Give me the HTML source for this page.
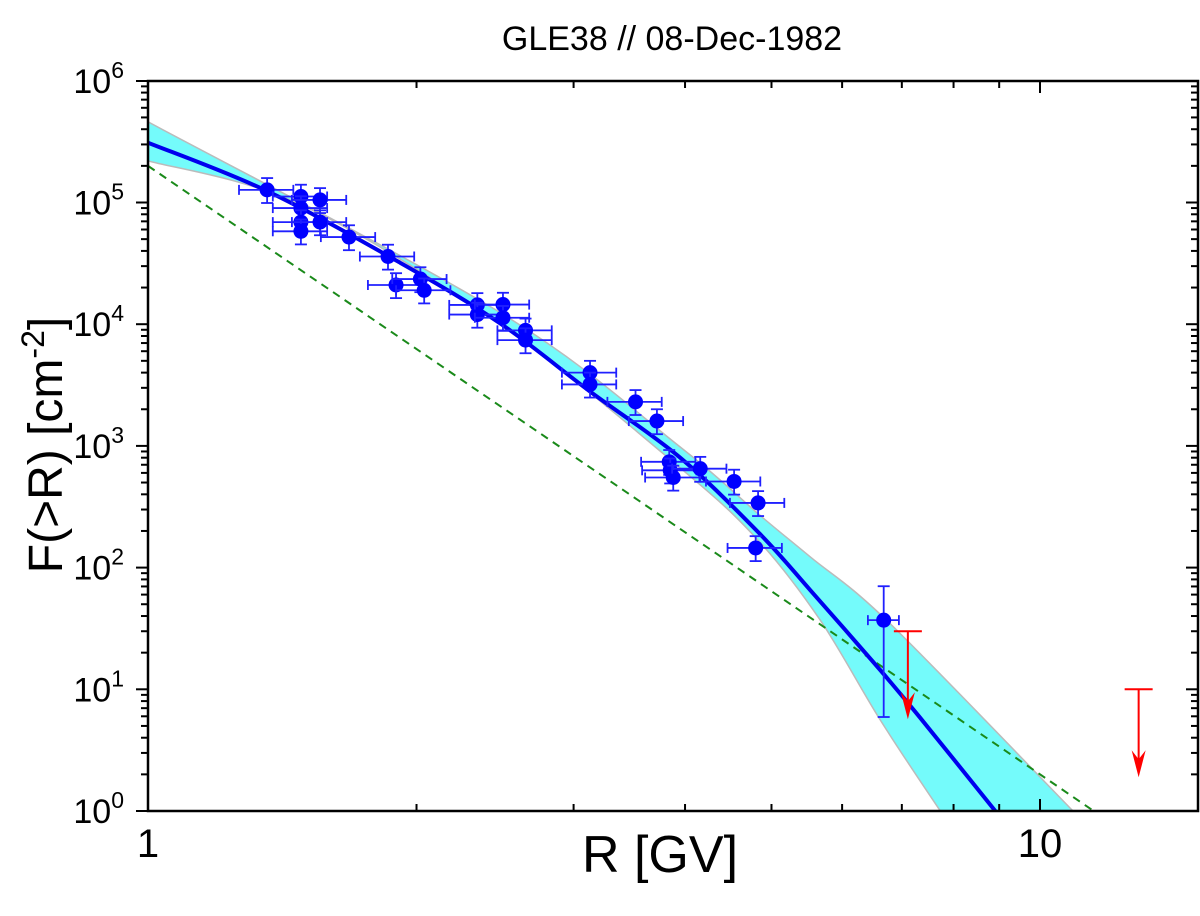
<!DOCTYPE html>
<html><head><meta charset="utf-8"><style>
html,body{margin:0;padding:0;background:#fff;}
svg{display:block;font-family:"Liberation Sans",Arial,sans-serif;}
</style></head><body>
<svg id="chart" width="1200" height="916">
<text x="672" y="50" font-size="34" text-anchor="middle">GLE38 // 08-Dec-1982</text>
<text x="660" y="872" font-size="52" text-anchor="middle">R [GV]</text>
<text transform="translate(62,445) rotate(-90)" font-size="48" text-anchor="middle">F(&gt;R) [cm<tspan dy="-18" font-size="32">-2</tspan><tspan dy="18">]</tspan></text>
<g id="plot"></g>
</svg>
<script>
const dataR=[1.36,1.484,1.484,1.484,1.484,1.559,1.559,1.68,1.858,1.897,2.02,2.04,2.34,2.34,2.5,2.5,2.65,2.65,3.13,3.13,3.52,3.72,3.84,3.85,3.88,4.16,4.54,4.83,4.8,6.68];
const dataF=[1.27e5,1.12e5,9.0e4,6.9e4,5.8e4,1.05e5,6.9e4,5.2e4,3.6e4,2.1e4,2.35e4,1.9e4,1.44e4,1.2e4,1.45e4,1.13e4,8.9e3,7.4e3,4.0e3,3.2e3,2.3e3,1.6e3,740,630,550,650,510,340,145,37];
const limR=[7.11,12.9];
const limF=[30,10];
const fitR=[1,1.36,1.917,2.48,3.13,3.95,4.85,5.53,6.62,7.33,8.91];
const fitF=[3.1e5,1.24e5,3.2e4,1.02e4,2.8e3,800,190,65,14.4,5.9,1];
const bandUpR=[1,2.48,3.95,4.85,5.53,6.78,10.89];
const bandUpF=[4.6e5,1.25e4,980,270,122,35,1];
const bandLoR=[1,1.484,2.48,3.95,4.83,5.67,6.62,7.73];
const bandLoF=[2.2e5,9.6e4,1.0e4,660,168,37,5.6,1];
const pl_A=2e5, pl_gamma=5.0;
const xTickLabels=["1","10"];
const yTickExp=[0,1,2,3,4,5,6];

const L=148,R_=1198,T=81,B=811;
const xs=r=>L+Math.log10(r)*892;
const ys=f=>B-Math.log10(f)*121.7;
const NS="http://www.w3.org/2000/svg";
const g=document.getElementById('plot');
function mk(tag,attrs,parent){const e=document.createElementNS(NS,tag);for(const k in attrs)e.setAttribute(k,attrs[k]);(parent||g).appendChild(e);return e;}
function smooth(P){
  let d='M'+P[0][0].toFixed(1)+','+P[0][1].toFixed(1);
  for(let i=0;i<P.length-1;i++){
    const p0=P[Math.max(0,i-1)],p1=P[i],p2=P[i+1],p3=P[Math.min(P.length-1,i+2)];
    const c1=[p1[0]+(p2[0]-p0[0])/6,p1[1]+(p2[1]-p0[1])/6];
    const c2=[p2[0]-(p3[0]-p1[0])/6,p2[1]-(p3[1]-p1[1])/6];
    d+=` C${c1[0].toFixed(1)},${c1[1].toFixed(1)} ${c2[0].toFixed(1)},${c2[1].toFixed(1)} ${p2[0].toFixed(1)},${p2[1].toFixed(1)}`;
  }
  return d;
}

const defs=mk('defs',{});
const cp=mk('clipPath',{id:'clip'},defs);
mk('rect',{x:L,y:T,width:R_-L,height:B-T},cp);
const clipG=mk('g',{'clip-path':'url(#clip)'});



const up=bandUpR.map((r,i)=>[xs(r),ys(bandUpF[i])]);
const lo=bandLoR.map((r,i)=>[xs(r),ys(bandLoF[i])]).reverse();
let d=smooth(up)+' L'+lo[0][0].toFixed(1)+','+lo[0][1].toFixed(1)+smooth(lo).replace(/^M[^C]*/,' ')+' Z';
const band=mk('path',{d:d,fill:'#74fbfb',stroke:'#bbbbbb','stroke-width':1.5},clipG);



const plL=mk('line',{x1:xs(1),y1:ys(pl_A),x2:xs(13),y2:ys(pl_A*Math.pow(13,-pl_gamma)),stroke:'#1a8a1a','stroke-width':2,'stroke-dasharray':'8,6'},clipG);



const fit=mk('path',{d:smooth(fitR.map((r,i)=>[xs(r),ys(fitF[i])])),fill:'none',stroke:'#0000ee','stroke-width':4,'stroke-linejoin':'round'},clipG);



dataR.forEach((r,i)=>{
  const f=dataF[i];
  const pg=mk('g',{stroke:'#2020ff','stroke-width':1.8,fill:'none'},clipG);
  
  
  const x=xs(r),y=ys(f);
  const last=(i===dataR.length-1);
  const xl=xs(r*(last?0.96:0.93)),xr=xs(r*(last?1.04:1.07));
  const yt=ys(f*(last?1.9:1.25)),yb=ys(f*(last?0.16:0.78));
  mk('line',{x1:xl,y1:y,x2:xr,y2:y},pg);
  mk('line',{x1:xl,y1:y-5,x2:xl,y2:y+5},pg);
  mk('line',{x1:xr,y1:y-5,x2:xr,y2:y+5},pg);
  mk('line',{x1:x,y1:yt,x2:x,y2:yb},pg);
  mk('line',{x1:x-6,y1:yt,x2:x+6,y2:yt},pg);
  mk('line',{x1:x-6,y1:yb,x2:x+6,y2:yb},pg);
  mk('circle',{cx:x,cy:y,r:7.5,fill:'#0000ff',stroke:'none'},pg);
});

limR.forEach((r,i)=>{
  const lg=mk('g',{stroke:'#ff0000','stroke-width':2},clipG);
  
  
  const x=xs(r),y=ys(limF[i]),y2=y+88;
  mk('line',{x1:x-14,y1:y,x2:x+14,y2:y},lg);
  mk('line',{x1:x,y1:y,x2:x,y2:y2-10},lg);
  mk('path',{d:`M${x-7},${y2-27} L${x},${y2} L${x+7},${y2-27} L${x},${y2-18} Z`,fill:'#ff0000',stroke:'none'},lg);
});

const fr=mk('rect',{x:L,y:T,width:R_-L,height:B-T,fill:'none',stroke:'#000','stroke-width':2.5});



const xg=mk('g',{stroke:'#000','stroke-width':2});


for(let dec=0;dec<2;dec++){for(let m=1;m<10;m++){const v=m*Math.pow(10,dec);const x=xs(v);if(x<L-1||x>R_+1)continue;const len=m===1?12:7;
  mk('line',{x1:x,y1:B,x2:x,y2:B-len},xg);mk('line',{x1:x,y1:T,x2:x,y2:T+len},xg);}}
xTickLabels.forEach((t,i)=>{const lab=mk('text',{x:xs(Math.pow(10,i)),y:B+46,'font-size':40,'text-anchor':'middle',stroke:'none',fill:'#000'});lab.textContent=t;
  });

const yg=mk('g',{stroke:'#000','stroke-width':2});


for(let dec=0;dec<6;dec++){for(let m=1;m<10;m++){const y=ys(m*Math.pow(10,dec));const len=m===1?12:7;
  mk('line',{x1:L,y1:y,x2:L-len,y2:y},yg);mk('line',{x1:R_,y1:y,x2:R_-len,y2:y},yg);}}
mk('line',{x1:L,y1:T,x2:L-12,y2:T},yg);mk('line',{x1:R_,y1:T,x2:R_-12,y2:T},yg);
yTickExp.forEach(e=>{const y=ys(Math.pow(10,e));
  const lab=mk('text',{x:124,y:y+12,'font-size':34,'text-anchor':'end',stroke:'none',fill:'#000'});
  
  const t1=document.createElementNS(NS,'tspan');t1.textContent='10';lab.appendChild(t1);
  const t2=document.createElementNS(NS,'tspan');t2.setAttribute('dy','-15');t2.setAttribute('font-size','23');t2.textContent=String(e);lab.appendChild(t2);
});
</script>
</body></html>
